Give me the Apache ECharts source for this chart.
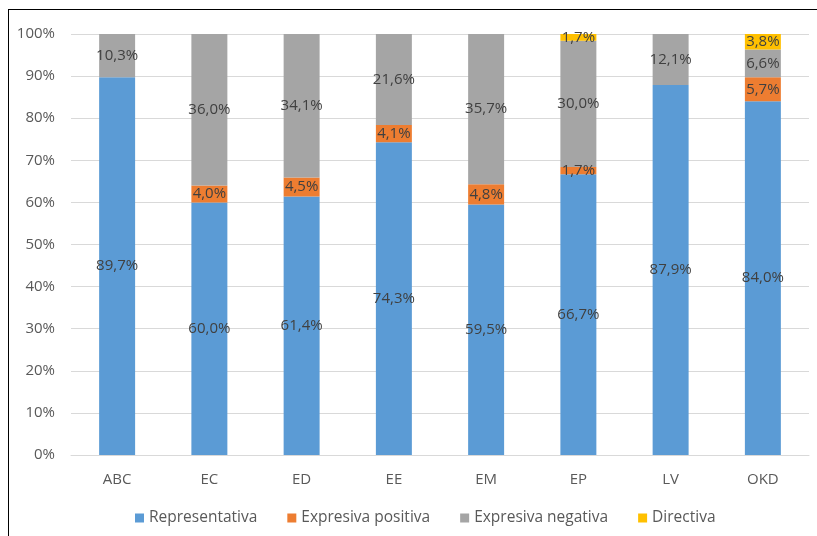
<!DOCTYPE html>
<html>
<head>
<meta charset="utf-8">
<script src="https://cdn.jsdelivr.net/npm/echarts@6/dist/echarts.min.js"></script>
<style>
  html, body { margin: 0; padding: 0; background: #fff; }
  #wrap { position: relative; width: 817px; height: 536px; }
  #chart { width: 817px; height: 536px; }
  /* marco del gráfico (borde superior e izquierdo) */
  #frame {
    position: absolute; left: 8px; top: 9px; right: -2px; bottom: -2px;
    border-top: 1px solid #000; border-left: 1px solid #000;
    pointer-events: none;
  }
</style>
</head>
<body>
<div id="wrap">
  <div id="chart"></div>
  <div id="frame"></div>
</div>
<script>
const categories = ['ABC', 'EC', 'ED', 'EE', 'EM', 'EP', 'LV', 'OKD'];
const representativa = [89.7, 60.0, 61.4, 74.3, 59.5, 66.7, 87.9, 84.0];
const expresivaPositiva = [0, 4.0, 4.5, 4.1, 4.8, 1.7, 0, 5.7];
const expresivaNegativa = [10.3, 36.0, 34.1, 21.6, 35.7, 30.0, 12.1, 6.6];
const directiva = [0, 0, 0, 0, 0, 1.7, 0, 3.8];

const fontFam = "'Open Sans', sans-serif";

const chart = echarts.init(document.getElementById('chart'));

function makeSeries(name, data, color) {
  return {
    name: name,
    type: 'bar',
    stack: 'total',
    barWidth: '39%',
    data: data,
    itemStyle: { color: color },
    label: {
      show: true,
      position: 'inside',
      color: '#404040',
      fontSize: 15,
      fontFamily: fontFam,
      formatter: p => p.value > 0 ? p.value.toFixed(1).replace('.', ',') + '%' : ''
    }
  };
}

chart.setOption({
  animation: false,
  grid: { left: 71, right: 8, top: 34, bottom: 81 },
  legend: {
    bottom: 5,
    left: 130,
    itemWidth: 9,
    itemHeight: 9,
    itemGap: 30,
    icon: 'rect',
    textStyle: { color: '#595959', fontSize: 15.5, fontFamily: fontFam }
  },
  xAxis: {
    type: 'category',
    data: categories,
    axisLine: { lineStyle: { color: '#d9d9d9', width: 1 } },
    axisTick: { show: false },
    axisLabel: { color: '#595959', fontSize: 15, fontFamily: fontFam, margin: 17 }
  },
  yAxis: {
    type: 'value',
    min: 0,
    max: 100,
    interval: 10,
    axisLine: { show: false },
    axisTick: { show: false },
    splitLine: { lineStyle: { color: '#d9d9d9', width: 1 } },
    axisLabel: { color: '#595959', fontSize: 15, fontFamily: fontFam, margin: 16, formatter: '{value}%' }
  },
  series: [
    makeSeries('Representativa', representativa, '#5b9bd5'),
    makeSeries('Expresiva positiva', expresivaPositiva, '#ed7d31'),
    makeSeries('Expresiva negativa', expresivaNegativa, '#a5a5a5'),
    makeSeries('Directiva', directiva, '#ffc000')
  ]
});
</script>
</body>
</html>
